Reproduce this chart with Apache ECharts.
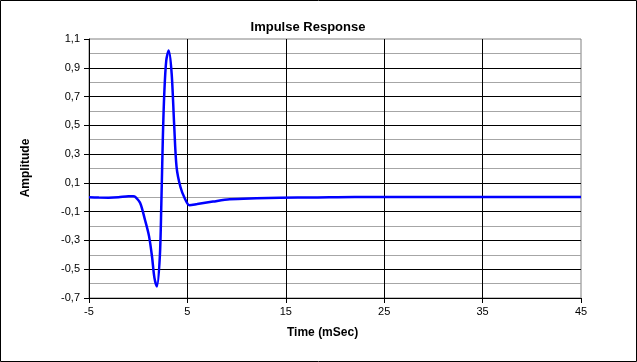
<!DOCTYPE html>
<html>
<head>
<meta charset="utf-8">
<script src="https://cdn.jsdelivr.net/npm/echarts@6/dist/echarts.min.js"></script>
<style>
html,body{margin:0;padding:0;background:#fff;}
#c{width:637px;height:362px;}
</style>
</head>
<body>
<div id="c"></div>
<script>
var timeMs = [-5, -4, -3, -2, -1, -0.5, -0.3, 0.2, 0.7, 1.1, 1.4, 1.65, 1.9, 2.2, 2.35, 2.5, 2.65, 2.85, 3.1, 3.4, 3.65, 3.9, 4.3, 4.75, 5.2, 6, 7.6, 9.3, 12, 14.4, 18, 22, 30, 38, 45];
var amplitude = [0, -0.002, -0.003, 0.0, 0.008, 0.008, 0.003, -0.04, -0.16, -0.27, -0.41, -0.56, -0.62, -0.41, -0.05, 0.4, 0.72, 0.95, 1.02, 0.86, 0.51, 0.21, 0.07, -0.01, -0.055, -0.047, -0.03, -0.014, -0.007, -0.003, -0.001, 0.002, 0.002, 0.002, 0.002];
var xTicks = [-5, 5, 15, 25, 35, 45];
var yTicks = [-0.7, -0.5, -0.3, -0.1, 0.1, 0.3, 0.5, 0.7, 0.9, 1.1];

var points = timeMs.map(function (t, i) { return [t, amplitude[i]]; });
var font = 'Arial, "Liberation Sans", sans-serif';

var chart = echarts.init(document.getElementById('c'), null, {renderer: 'canvas'});
chart.setOption({
  backgroundColor: '#fff',
  animation: false,
  title: {
    text: 'Impulse Response',
    left: 303, top: 16, textAlign: 'center',
    textStyle: {fontFamily: font, fontSize: 13, fontWeight: 'bold', color: '#000'}
  },
  grid: {left: 89, right: 56, top: 39, bottom: 64, show: true, borderColor: '#808080', borderWidth: 1, backgroundColor: 'transparent'},
  xAxis: {
    type: 'value', min: xTicks[0], max: xTicks[xTicks.length - 1], interval: 10,
    axisLine: {show: true, onZero: false, lineStyle: {color: '#000', width: 1}},
    axisTick: {show: true, length: 5, lineStyle: {color: '#000'}},
    axisLabel: {margin: 8, fontFamily: font, fontSize: 11, color: '#000'},
    splitLine: {show: true, showMinLine: false, showMaxLine: false, lineStyle: {color: '#000', width: 1}}
  },
  yAxis: {
    type: 'value', min: yTicks[0], max: yTicks[yTicks.length - 1], interval: 0.2,
    axisLine: {show: true, onZero: false, lineStyle: {color: '#000', width: 1}},
    axisTick: {show: true, length: 5, lineStyle: {color: '#000'}},
    axisLabel: {margin: 9, fontFamily: font, fontSize: 11, color: '#000',
      formatter: function (v) { return (Math.round(v * 10) / 10).toFixed(1).replace('.', ','); }},
    splitLine: {show: true, showMinLine: false, showMaxLine: false, lineStyle: {color: '#000', width: 1}},
    minorTick: {show: false, splitNumber: 2},
    minorSplitLine: {show: true, lineStyle: {color: '#a6a6a6', width: 1}}
  },
  series: [{
    type: 'line', data: points, smooth: 0.3, showSymbol: false,
    lineStyle: {color: '#0000ff', width: 2.5}, z: 5
  }],
  graphic: [
    {type: 'text', left: 287, top: 327, style: {text: 'Time (mSec)', font: 'bold 12px ' + font, fill: '#000'}},
    {type: 'text', x: 26, y: 168, rotation: Math.PI / 2, style: {text: 'Amplitude', font: 'bold 12px ' + font, fill: '#000', align: 'center', verticalAlign: 'middle'}},
    {type: 'rect', shape: {x: 0.5, y: 0.5, width: 636, height: 361}, style: {fill: 'none', stroke: '#000', lineWidth: 1}, silent: true}
  ]
});
</script>
</body>
</html>
